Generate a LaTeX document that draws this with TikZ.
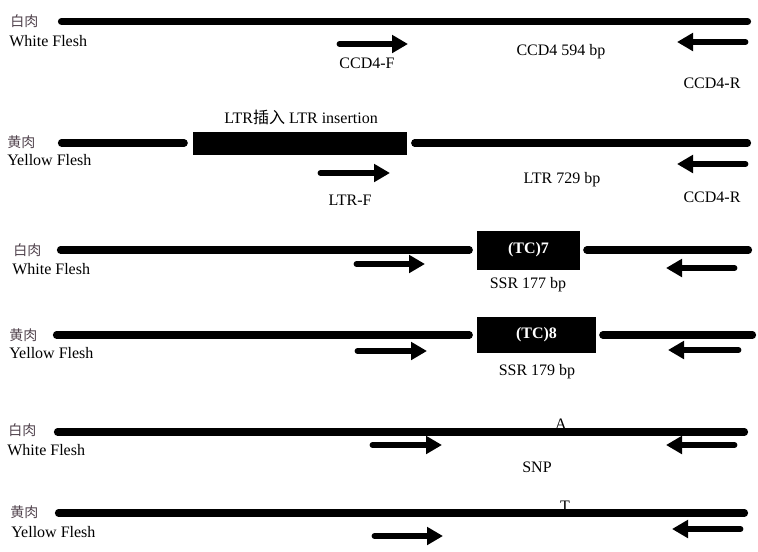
\documentclass[tikz,border=0pt]{standalone}
\usepackage{fontspec}
\setmainfont{Liberation Serif}
\newfontfamily\cjk{Noto Sans CJK SC}
\usepackage{xcolor}
\usetikzlibrary{arrows.meta}
\definecolor{cngray}{RGB}{80,66,76}

\begin{document}
\begin{tikzpicture}[x=0.75pt, y=-0.75pt,
  dna/.style={line width=5.4pt, line cap=round},
  primer/.style={line width=4.4pt, line cap=round, -{Triangle[length=12pt, width=13pt]}},
  cn/.style={anchor=west, inner sep=0pt, text=cngray, font=\cjk\fontsize{10.5}{12}\selectfont},
  en/.style={inner sep=0pt, font=\fontsize{12}{14}\selectfont},
  insert/.style={fill=black, inner sep=0pt, text=white, font=\bfseries\fontsize{12}{14}\selectfont}]
  \useasboundingbox (0,0) rectangle (758,551);

  % White Flesh, CCD4
  \node[cn] (cn-1) at (10,21) {白肉};
  \node[en, anchor=west] (en-1) at (9,41) {White Flesh};
  \coordinate (W1-start) at (61.5,21.5);
  \coordinate (W1-end) at (747.5,21.5);
  \draw[dna] (W1-start) -- (W1-end);  % Gene
  \coordinate (F1-tail) at (339.5,44);
  \coordinate (F1-tip) at (408,44);
  \draw[primer] (F1-tail) -- (F1-tip);  % Forward primer
  \coordinate (R1-tail) at (745.5,42);
  \coordinate (R1-tip) at (677,42);
  \draw[primer] (R1-tail) -- (R1-tip);  % Reverse primer
  \node[en] (F1-label) at (367,63) {CCD4-F};
  \node[en] (P1-label) at (561,52) {CCD4 594 bp};
  \node[en] (R1-label) at (712,83) {CCD4-R};

  % Yellow Flesh, LTR
  \node[cn] (cn-2) at (7,142) {黄肉};
  \node[en, anchor=west] (en-2) at (7,160) {Yellow Flesh};
  \node[insert, minimum width=160.5pt, minimum height=17.25pt] (LTR) at (300,143) {};  % Insertion
  \node[en] (LTR-label) at (301,117) {LTR{\cjk 插入} LTR insertion};
  \coordinate (Y2-start) at (61.5,143);
  \coordinate (Y2-end) at (747.5,143);
  \draw[dna, shorten >=6.4pt] (Y2-start) -- (LTR);  % Gene
  \draw[dna, shorten <=5.6pt] (LTR) -- (Y2-end);
  \coordinate (F2-tail) at (320.5,173);
  \coordinate (F2-tip) at (390,173);
  \draw[primer] (F2-tail) -- (F2-tip);  % Forward primer
  \coordinate (R2-tail) at (745.5,164);
  \coordinate (R2-tip) at (677,164);
  \draw[primer] (R2-tail) -- (R2-tip);  % Reverse primer
  \node[en] (F2-label) at (350,200) {LTR-F};
  \node[en] (P2-label) at (562,180) {LTR 729 bp};
  \node[en] (R2-label) at (712,197) {CCD4-R};

  % White Flesh, SSR
  \node[cn] (cn-3) at (13,250) {白肉};
  \node[en, anchor=west] (en-3) at (12,269) {White Flesh};
  \node[insert, minimum width=77.25pt, minimum height=29.25pt] (SSR-7) at (528.5,250) {(TC)7};  % Repeat
  \coordinate (W3-start) at (60.5,250);
  \coordinate (W3-end) at (748.5,250);
  \draw[dna, shorten >=5.6pt] (W3-start) -- (SSR-7);  % Gene
  \draw[dna, shorten <=4.9pt] (SSR-7) -- (W3-end);
  \coordinate (F3-tail) at (356.5,264);
  \coordinate (F3-tip) at (425,264);
  \draw[primer] (F3-tail) -- (F3-tip);  % Forward primer
  \coordinate (R3-tail) at (734.5,268);
  \coordinate (R3-tip) at (666,268);
  \draw[primer] (R3-tail) -- (R3-tip);  % Reverse primer
  \node[en] (P3-label) at (528,285) {SSR 177 bp};

  % Yellow Flesh, SSR
  \node[cn] (cn-4) at (9,335) {黄肉};
  \node[en, anchor=west] (en-4) at (9,353) {Yellow Flesh};
  \node[insert, minimum width=89.25pt, minimum height=27pt] (SSR-8) at (536.5,335) {(TC)8};  % Repeat
  \coordinate (Y4-start) at (56.5,335);
  \coordinate (Y4-end) at (752.5,335);
  \draw[dna, shorten >=5.6pt] (Y4-start) -- (SSR-8);  % Gene
  \draw[dna, shorten <=4.9pt] (SSR-8) -- (Y4-end);
  \coordinate (F4-tail) at (357.5,351);
  \coordinate (F4-tip) at (427,351);
  \draw[primer] (F4-tail) -- (F4-tip);  % Forward primer
  \coordinate (R4-tail) at (738.5,350);
  \coordinate (R4-tip) at (668,350);
  \draw[primer] (R4-tail) -- (R4-tip);  % Reverse primer
  \node[en] (P4-label) at (537,372) {SSR 179 bp};

  % White Flesh, SNP
  \node[cn] (cn-5) at (8,430) {白肉};
  \node[en, anchor=west] (en-5) at (7,450) {White Flesh};
  \node[en] (SNP-A) at (561,424) {A};  % Base
  \coordinate (W5-start) at (57.5,432);
  \coordinate (W5-end) at (744.5,432);
  \draw[dna] (W5-start) -- (W5-end);  % Gene
  \coordinate (F5-tail) at (372.5,445);
  \coordinate (F5-tip) at (442,445);
  \draw[primer] (F5-tail) -- (F5-tip);  % Forward primer
  \coordinate (R5-tail) at (734.5,445);
  \coordinate (R5-tip) at (666,445);
  \draw[primer] (R5-tail) -- (R5-tip);  % Reverse primer
  \node[en] (P5-label) at (537,467) {SNP};

  % Yellow Flesh, SNP
  \node[cn] (cn-6) at (10,512) {黄肉};
  \node[en, anchor=west] (en-6) at (11,532) {Yellow Flesh};
  \node[en] (SNP-T) at (565,506) {T};  % Base
  \coordinate (Y6-start) at (58.5,513);
  \coordinate (Y6-end) at (744.5,513);
  \draw[dna] (Y6-start) -- (Y6-end);  % Gene
  \coordinate (F6-tail) at (374.5,536);
  \coordinate (F6-tip) at (443,536);
  \draw[primer] (F6-tail) -- (F6-tip);  % Forward primer
  \coordinate (R6-tail) at (740.5,529);
  \coordinate (R6-tip) at (672,529);
  \draw[primer] (R6-tail) -- (R6-tip);  % Reverse primer
\end{tikzpicture}
\end{document}
